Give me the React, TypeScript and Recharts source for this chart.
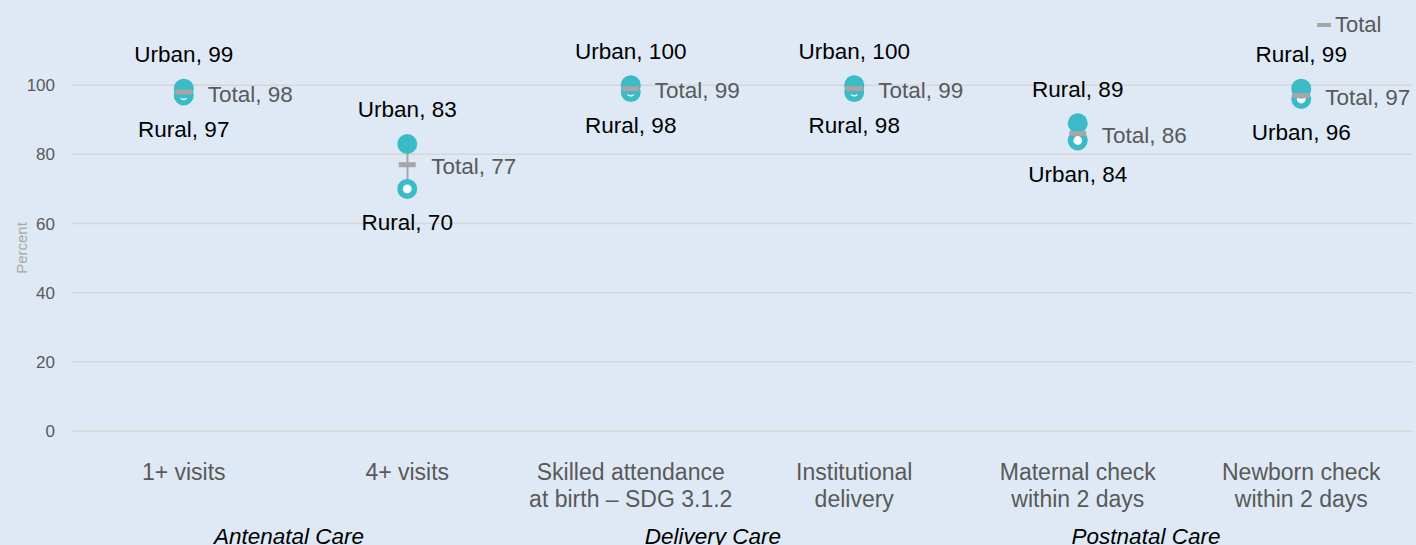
import React from "react";
import {
  ComposedChart,
  Bar,
  Line,
  XAxis,
  YAxis,
  CartesianGrid,
  LabelList,
  Legend,
  Customized,
} from "recharts";

// ---- data ----
const categories = [
  "1+ visits",
  "4+ visits",
  "Skilled attendance\nat birth – SDG 3.1.2",
  "Institutional\ndelivery",
  "Maternal check\nwithin 2 days",
  "Newborn check\nwithin 2 days",
];
const urbanValues = [99, 83, 100, 100, 84, 96];
const ruralValues = [97, 70, 98, 98, 89, 99];
const totalValues = [98, 77, 99, 99, 86, 97];
const yTicks = [0, 20, 40, 60, 80, 100];
const groupLabels = ["Antenatal Care", "Delivery Care", "Postnatal Care"];

// ---- layout / style ----
const W = 1416;
const H = 545;
const BG = "#dee9f5";
const TEAL = "#3bbac7";
const GRAYMARK = "#a6a6a6";
const FONT = "'Liberation Sans', Arial, sans-serif";
const groupLabelX = [289, 713, 1146];

const data = categories.map((name, i) => {
  const u = urbanValues[i];
  const r = ruralValues[i];
  const highIsUrban = u >= r;
  const high = highIsUrban ? u : r;
  const low = highIsUrban ? r : u;
  return {
    name,
    high,
    low,
    total: totalValues[i],
    range: [low, high],
    highLabel: `${highIsUrban ? "Urban" : "Rural"}, ${high}`,
    lowLabel: `${highIsUrban ? "Rural" : "Urban"}, ${low}`,
    totalLabel: `Total, ${totalValues[i]}`,
  };
});

const XTick = (props: any) => {
  const { x, y, payload } = props;
  const lines = String(payload.value).split("\n");
  return (
    <text
      x={x}
      y={y}
      textAnchor="middle"
      fill="#595959"
      fontSize={23}
      fontFamily={FONT}
    >
      {lines.map((l, i) => (
        <tspan key={i} x={x} dy={i === 0 ? 41 : 27}>
          {l}
        </tspan>
      ))}
    </text>
  );
};

const FilledDot = (props: any) => {
  const { cx, cy, index } = props;
  if (cx == null || cy == null) return <g key={`f${index}`} />;
  return <circle key={`f${index}`} cx={cx} cy={cy} r={10} fill={TEAL} />;
};
const HollowDot = (props: any) => {
  const { cx, cy, index } = props;
  if (cx == null || cy == null) return <g key={`h${index}`} />;
  return (
    <circle
      key={`h${index}`}
      cx={cx}
      cy={cy}
      r={7.2}
      fill="#ffffff"
      stroke={TEAL}
      strokeWidth={5.6}
    />
  );
};
const DashDot = (props: any) => {
  const { cx, cy, index } = props;
  if (cx == null || cy == null) return <g key={`d${index}`} />;
  return (
    <rect
      key={`d${index}`}
      x={cx - 8.5}
      y={cy - 2.5}
      width={17}
      height={5}
      fill={GRAYMARK}
    />
  );
};

const makeLabel =
  (dx: number, dy: number, anchor: string, color: string) => (props: any) => {
    const { x, y, value } = props;
    return (
      <text
        x={x + dx}
        y={y + dy}
        textAnchor={anchor}
        dominantBaseline="central"
        fill={color}
        fontSize={22.5}
        fontFamily={FONT}
      >
        {value}
      </text>
    );
  };

const LegendContent = () => (
  <div
    style={{
      display: "flex",
      alignItems: "center",
      fontFamily: FONT,
      fontSize: 22,
      lineHeight: "26px",
      color: "#595959",
    }}
  >
    <span
      style={{
        display: "inline-block",
        width: 14,
        height: 4,
        background: GRAYMARK,
        marginRight: 4,
      }}
    />
    Total
  </div>
);

const Extras = () => (
  <g fontFamily={FONT}>
    <text
      x={21}
      y={248}
      transform="rotate(-90 21 248)"
      textAnchor="middle"
      dominantBaseline="central"
      fill="#a8a8a8"
      fontSize={15}
    >
      Percent
    </text>
    {groupLabels.map((g, i) => (
      <text
        key={g}
        x={groupLabelX[i]}
        y={544}
        textAnchor="middle"
        fontStyle="italic"
        fill="#000"
        fontSize={22.5}
      >
        {g}
      </text>
    ))}
  </g>
);

export default function App() {
  return (
    <div
      style={{
        position: "absolute",
        left: 0,
        top: 0,
        width: W,
        height: H,
        background: BG,
        overflow: "hidden",
      }}
    >
      <ComposedChart
        width={W}
        height={H}
        data={data}
        margin={{ top: 16, right: 3, left: 0, bottom: 0 }}
        style={{ fontFamily: FONT }}
      >
        <CartesianGrid
          vertical={false}
          stroke="#d6d6d6"
          strokeWidth={1.5}
          horizontalValues={yTicks}
        />
        <XAxis
          dataKey="name"
          axisLine={false}
          tickLine={false}
          height={114}
          interval={0}
          tick={<XTick />}
        />
        <YAxis
          domain={[0, 120]}
          ticks={yTicks}
          axisLine={false}
          tickLine={false}
          width={72}
          tickMargin={11}
          tick={{ fill: "#595959", fontSize: 17, fontFamily: FONT }}
        />
        <Bar
          dataKey="range"
          barSize={2}
          fill={GRAYMARK}
          isAnimationActive={false}
          legendType="none"
        />
        <Line
          dataKey="low"
          stroke="none"
          dot={<HollowDot />}
          activeDot={false}
          isAnimationActive={false}
          legendType="none"
        >
          <LabelList dataKey="lowLabel" content={makeLabel(0, 33.5, "middle", "#000")} />
        </Line>
        <Line
          dataKey="high"
          stroke="none"
          dot={<FilledDot />}
          activeDot={false}
          isAnimationActive={false}
          legendType="none"
        >
          <LabelList dataKey="highLabel" content={makeLabel(0, -34, "middle", "#000")} />
        </Line>
        <Line
          dataKey="total"
          name="Total"
          stroke="none"
          dot={<DashDot />}
          activeDot={false}
          isAnimationActive={false}
        >
          <LabelList dataKey="totalLabel" content={makeLabel(24, 2, "start", "#595959")} />
        </Line>
        <Legend
          layout="horizontal"
          verticalAlign="middle"
          align="center"
          content={<LegendContent />}
          wrapperStyle={{ position: "absolute", top: 12, left: 1317, width: 95 }}
        />
        <Customized component={<Extras />} />
      </ComposedChart>
    </div>
  );
}
